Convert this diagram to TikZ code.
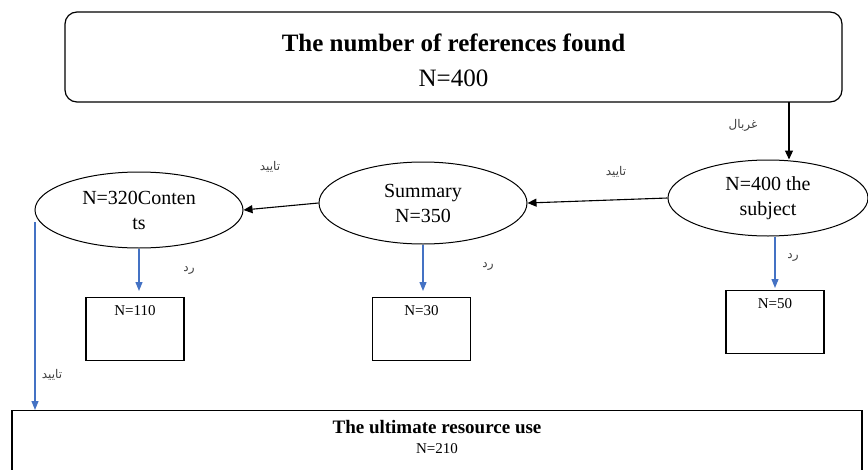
\documentclass[tikz,border=0pt]{standalone}
\usepackage{fontspec}
\setmainfont{Liberation Serif}
\newfontfamily\arabicfont[Script=Arabic]{DejaVu Sans}
\TeXXeTstate=1
\usetikzlibrary{shapes.geometric,arrows.meta}
\definecolor{bl}{RGB}{68,114,196}
\tikzset{
  x=1pt,y=-1pt,
  ell/.style={draw,line width=1pt,ellipse,inner sep=0pt,align=center,font=\fontsize{20}{25}\selectfont},
  rbox/.style={draw,line width=1.2pt,minimum width=98pt,minimum height=63pt,anchor=north,inner sep=0pt},
  boxtxt/.style={font=\fontsize{15}{17}\selectfont},
  arr/.style={-{Triangle[length=9pt,width=8pt]},line width=1.1pt},
  barr/.style={-{Triangle[length=9pt,width=7pt]},line width=1.2pt,draw=bl},
  lab/.style={font=\arabicfont\fontsize{12}{13}\selectfont,text=black!75}
}
\begin{document}
\begin{tikzpicture}
\useasboundingbox (0,0) rectangle (868,469);
\clip (0,0) rectangle (868,469);
% top box
\node[draw,line width=1.2pt,rounded corners=12pt,minimum width=777pt,minimum height=90pt,inner sep=0pt] (top) at (453.5,57) {};
\node[align=center,font=\fontsize{25}{35}\selectfont] (toptxt) at (453.5,60)
  {\textbf{The number of references found}\\N=400};
% ellipses
\node[ell,minimum width=200pt,minimum height=76pt] (subj) at (768,198) {N=400 the\\subject};
\node[ell,minimum width=208pt,minimum height=82pt] (summ) at (423,203) {Summary\\N=350};
\node[ell,minimum width=208pt,minimum height=76pt] (cont) at (139,210) {N=320Conten\\ts};
% small boxes
\node[rbox] (b110) at (135,297) {};
\node[boxtxt,anchor=north] (t110) at (b110.north) [yshift=-5pt] {N=110};
\node[rbox] (b30) at (421.5,297) {};
\node[boxtxt,anchor=north] (t30) at (b30.north) [yshift=-5pt] {N=30};
\node[rbox] (b50) at (775,290) {};
\node[boxtxt,anchor=north] (t50) at (b50.north) [yshift=-5pt] {N=50};
% bottom box
\node[draw,line width=1.2pt,minimum width=850pt,minimum height=80pt,anchor=north,inner sep=0pt] (final) at (437,410) {};
\node[anchor=north,align=center,font=\fontsize{19}{20}\selectfont] (ftxt) at (final.north) [yshift=-7pt]
  {\textbf{The ultimate resource use}\\{\fontsize{15}{18}\selectfont N=210}};
% connectors
\coordinate (t1) at (789,102);
\draw[arr] (t1) -- (t1 |- subj.north);
\draw[arr] (subj.west) -- (summ.east);
\draw[arr] (summ.west) -- (cont.east);
\draw[barr,shorten >=6pt] (cont.south) -- (cont.south |- b110.north);
\draw[barr,shorten >=6pt] (summ.south) -- (summ.south |- b30.north);
\draw[barr,shorten >=2pt] (subj.south -| b50.north) -- (b50.north);
\coordinate (lw) at (35,222);
\draw[barr] (lw) -- (lw |- final.north);
% labels
\node[lab] (l1) at (743,125) {\beginR غربال\endR};
\node[lab] (l2) at (616,172) {\beginR تایید\endR};
\node[lab] (l3) at (270,167) {\beginR تایید\endR};
\node[lab] (l4) at (52,375) {\beginR تایید\endR};
\node[lab] (l5) at (793,257) {\beginR رد\endR};
\node[lab] (l6) at (488,266) {\beginR رد\endR};
\node[lab] (l7) at (189,270) {\beginR رد\endR};
\end{tikzpicture}
\end{document}
